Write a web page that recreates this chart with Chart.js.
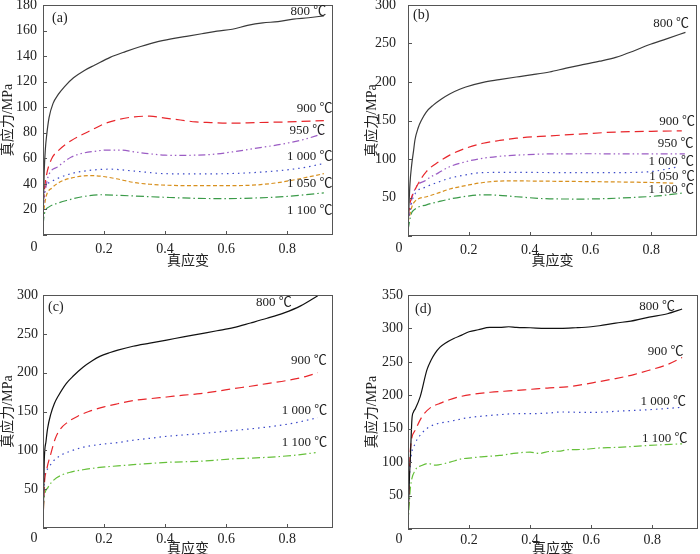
<!DOCTYPE html>
<html>
<head>
<meta charset="utf-8">
<script src="https://cdn.jsdelivr.net/npm/chart.js@4.4.0/dist/chart.umd.min.js"></script>
<style>
  html, body { margin: 0; padding: 0; background: #fff; }
  #wrap { position: relative; width: 700px; height: 554px; overflow: hidden; }
  .panel { position: absolute; width: 350px; height: 277px; }
</style>
</head>
<body>
<div id="wrap">
  <div class="panel" style="left:0;top:0"><canvas id="ca" width="350" height="277"></canvas></div>
  <div class="panel" style="left:350px;top:0"><canvas id="cb" width="350" height="277"></canvas></div>
  <div class="panel" style="left:0;top:277px"><canvas id="cc" width="350" height="277"></canvas></div>
  <div class="panel" style="left:350px;top:277px"><canvas id="cd" width="350" height="277"></canvas></div>
</div>
<script>
// ---------- 数据 ----------
const tempLabels = ["800 ℃", "900 ℃", "950 ℃", "1 000 ℃", "1 050 ℃", "1 100 ℃"];
const xTitle = "真应变";
const yTitle = "真应力/MPa";

// (a)
const strainA800 = [0, 0.002, 0.004, 0.008, 0.012, 0.02, 0.033, 0.05, 0.07, 0.1, 0.137, 0.17, 0.22, 0.27, 0.32, 0.37, 0.42, 0.47, 0.52, 0.57, 0.62, 0.67, 0.72, 0.77, 0.82, 0.87, 0.92];
const stressA800 = [10, 30, 50, 68, 78, 92, 103, 110, 116, 123, 129, 133, 139, 143.5, 147.5, 151, 153.5, 155.5, 157.5, 159.5, 161, 164, 166, 167, 169, 170, 171.5];
const strainA900 = [0, 0.01, 0.027, 0.05, 0.093, 0.158, 0.2, 0.25, 0.3, 0.35, 0.4, 0.45, 0.5, 0.55, 0.62, 0.7, 0.8, 0.92];
const stressA900 = [25, 45, 59, 66, 74, 82, 87, 90.5, 92.5, 93, 91.5, 90, 88.5, 88, 87.5, 88, 88.5, 89.5];
const strainA950 = [0, 0.016, 0.049, 0.093, 0.13, 0.17, 0.21, 0.25, 0.3, 0.35, 0.4, 0.45, 0.5, 0.55, 0.62, 0.7, 0.78, 0.85, 0.92];
const stressA950 = [22, 45, 53.5, 61, 64, 65.5, 66.5, 66.5, 65, 63.5, 62.5, 62.3, 62.5, 63, 65, 68, 71, 74.5, 79.5];
const strainA1000 = [0, 0.005, 0.02, 0.05, 0.1, 0.15, 0.22, 0.3, 0.4, 0.5, 0.6, 0.7, 0.8, 0.86, 0.92];
const stressA1000 = [20, 36, 41, 44.5, 48.5, 50.5, 51.5, 50, 48, 47.8, 48, 49, 51, 53, 56];
const strainA1050 = [0, 0.01, 0.03, 0.06, 0.1, 0.15, 0.19, 0.24, 0.3, 0.35, 0.4, 0.5, 0.6, 0.7, 0.77, 0.84, 0.92];
const stressA1050 = [15, 30, 37, 42, 45, 46.5, 46, 44, 41, 39.7, 39, 38.6, 38.6, 39.2, 41, 44, 48];
const strainA1100 = [0, 0.005, 0.02, 0.05, 0.077, 0.13, 0.19, 0.25, 0.3, 0.4, 0.5, 0.6, 0.7, 0.8, 0.92];
const stressA1100 = [8, 17, 22, 25, 27, 30, 31.5, 31, 30.5, 29.5, 28.7, 28.5, 29, 30.2, 33];

// (b)
const strainB800 = [0, 0.002, 0.0065, 0.012, 0.018, 0.023, 0.033, 0.045, 0.06, 0.083, 0.11, 0.137, 0.17, 0.19, 0.247, 0.3, 0.356, 0.41, 0.465, 0.52, 0.574, 0.63, 0.683, 0.74, 0.79, 0.85, 0.912];
const stressB800 = [10, 28, 68, 92, 110, 125, 140, 151, 161, 170, 178, 184.5, 190.5, 193.5, 199.5, 203, 206.5, 209.5, 213, 218, 222.5, 227, 232, 240, 248, 256, 264.5];
const strainB900 = [0, 0.008, 0.028, 0.061, 0.1, 0.137, 0.19, 0.247, 0.3, 0.356, 0.465, 0.574, 0.683, 0.8, 0.9];
const stressB900 = [25, 45, 64, 84, 96, 105, 114, 120.5, 124, 127, 130, 132.6, 135, 136, 136.5];
const strainB950 = [0, 0.017, 0.061, 0.1, 0.137, 0.19, 0.247, 0.3, 0.356, 0.465, 0.6, 0.8, 0.91];
const stressB950 = [22, 55, 73, 82, 90, 96.5, 101, 103.5, 105, 106.6, 106.8, 106.6, 106.6];
const strainB1000 = [0, 0.017, 0.061, 0.1, 0.137, 0.19, 0.247, 0.35, 0.5, 0.7, 0.8, 0.89];
const stressB1000 = [20, 50, 64, 70, 75, 79.5, 82.4, 82.6, 82.4, 82.4, 83.7, 90];
const strainB1050 = [0, 0.017, 0.061, 0.1, 0.137, 0.19, 0.247, 0.334, 0.45, 0.6, 0.8, 0.88];
const stressB1050 = [18, 42, 51, 56, 61, 65.5, 69.5, 71.6, 71.2, 70.6, 69.5, 68.6];
const strainB1100 = [0, 0.01, 0.02, 0.061, 0.1, 0.137, 0.19, 0.247, 0.3, 0.356, 0.465, 0.574, 0.737, 0.82, 0.9];
const stressB1100 = [8, 28, 34, 40.5, 44.5, 48, 51.5, 53.5, 52.8, 51, 48.3, 48, 50, 52, 55.6];

// (c)
const strainC800 = [0, 0.002, 0.004, 0.01, 0.015, 0.025, 0.037, 0.05, 0.076, 0.1, 0.131, 0.16, 0.186, 0.22, 0.245, 0.295, 0.35, 0.405, 0.46, 0.515, 0.57, 0.624, 0.68, 0.734, 0.79, 0.844, 0.9];
const stressC800 = [5, 40, 85, 112, 128, 146, 160, 170, 186, 196, 207, 215, 221, 226, 229, 234, 238, 242, 246, 250, 254, 258, 264, 270, 277, 286, 299];
const strainC900 = [0, 0.002, 0.004, 0.012, 0.026, 0.04, 0.058, 0.08, 0.114, 0.15, 0.2, 0.245, 0.295, 0.35, 0.405, 0.46, 0.515, 0.57, 0.624, 0.68, 0.734, 0.8, 0.86, 0.9];
const stressC900 = [5, 30, 53, 75, 96, 115, 128, 136, 144, 150, 156, 160, 164, 166.5, 168.7, 171, 173, 176, 179.4, 182.5, 186, 190, 195, 200];
const strainC1000 = [0, 0.002, 0.004, 0.015, 0.036, 0.06, 0.091, 0.131, 0.186, 0.245, 0.295, 0.35, 0.405, 0.515, 0.624, 0.734, 0.82, 0.9];
const stressC1000 = [5, 40, 62, 76, 87, 94, 99, 104, 107.5, 110, 113, 115.5, 118, 121.5, 125.5, 130, 135, 142];
const strainC1100 = [0, 0.002, 0.005, 0.016, 0.036, 0.06, 0.091, 0.131, 0.186, 0.245, 0.295, 0.405, 0.515, 0.624, 0.734, 0.82, 0.893];
const stressC1100 = [5, 30, 42, 52, 62, 68, 72, 75, 78, 80, 81.5, 84.5, 86, 89, 91, 93.5, 97];

// (d)
const strainD800 = [0, 0.002, 0.005, 0.008, 0.013, 0.018, 0.024, 0.04, 0.062, 0.075, 0.089, 0.105, 0.122, 0.15, 0.176, 0.2, 0.23, 0.268, 0.3, 0.33, 0.355, 0.4, 0.45, 0.5, 0.55, 0.6, 0.627, 0.68, 0.73, 0.79, 0.85, 0.898];
const stressD800 = [10, 40, 80, 110, 165, 175, 180, 198, 238, 252, 263, 272, 278, 285, 290, 295, 298, 301.5, 301.5, 302.5, 301.5, 301, 300, 300, 301, 302.5, 304, 308, 311, 317, 322, 329];
const strainD900 = [0, 0.003, 0.008, 0.024, 0.046, 0.078, 0.1, 0.133, 0.17, 0.22, 0.27, 0.33, 0.38, 0.43, 0.464, 0.52, 0.572, 0.62, 0.68, 0.74, 0.79, 0.85, 0.898];
const stressD900 = [10, 60, 120, 148, 168, 183, 187, 193, 198, 202, 204.5, 206.5, 208, 210, 211, 212.5, 216, 220, 225, 231, 237.5, 246, 256.5];
const strainD1000 = [0, 0.003, 0.008, 0.024, 0.045, 0.067, 0.1, 0.138, 0.19, 0.247, 0.3, 0.355, 0.4, 0.464, 0.5, 0.572, 0.62, 0.68, 0.79, 0.898];
const stressD1000 = [10, 60, 100, 128, 143, 152, 158, 161, 166, 169, 171, 172.5, 172.5, 173.5, 175, 174.5, 174.5, 176, 178.5, 182];
const strainD1100 = [0, 0.003, 0.008, 0.024, 0.045, 0.067, 0.085, 0.1, 0.138, 0.176, 0.2, 0.24, 0.3, 0.355, 0.4, 0.43, 0.464, 0.5, 0.52, 0.572, 0.62, 0.68, 0.79, 0.898];
const stressD1100 = [5, 30, 62, 88, 95, 98, 95.5, 96, 100, 105, 106, 108, 110, 113.5, 115, 113, 116, 116.5, 118.5, 119, 121, 122, 125, 127.5];

// 纵轴刻度
const yTicksA = { max: 180, step: 20 };
const yTicksB = { max: 300, step: 50 };
const yTicksC = { max: 300, step: 50 };
const yTicksD = { max: 350, step: 50 };
const xMax = 0.95, xStep = 0.2;

// ---------- 样式 ----------
const FONT = '"Liberation Serif", "Times New Roman", "Noto Sans CJK SC", serif';
const styles = {
  800:  { color: "#3a3a3a", dash: [] },
  900:  { color: "#e8262b", dash: [9, 5] },
  950:  { color: "#9b5cc4", dash: [7, 3, 1.5, 3, 1.5, 3] },
  1000: { color: "#3a48c8", dash: [1.5, 4] },
  1050: { color: "#d8901e", dash: [4, 2.5] },
  1100: { color: "#3a9a48", dash: [8, 3, 1.5, 3] }
};

function series(temp, xs, ys, color) {
  const st = styles[temp];
  return {
    data: xs.map((x, i) => ({ x: x, y: ys[i] })),
    borderColor: color || st.color,
    borderDash: st.dash,
    borderWidth: 1.2,
    showLine: true,
    pointRadius: 0,
    cubicInterpolationMode: "monotone",
    fill: false
  };
}

// 面板内文字、边框、向内刻度
const panelDecor = {
  id: "panelDecor",
  afterDraw(chart) {
    const o = chart.options.plugins.panelDecor;
    const { ctx, chartArea: a, scales: { x, y } } = chart;
    ctx.save();
    ctx.strokeStyle = "#555";
    ctx.lineWidth = 1;
    ctx.strokeRect(a.left + 0.5, a.top + 0.5, a.right - a.left - 1, a.bottom - a.top - 1);
    ctx.beginPath();
    x.ticks.forEach(t => {
      const px = Math.round(x.getPixelForValue(t.value)) + 0.5;
      ctx.moveTo(px, a.bottom); ctx.lineTo(px, a.bottom - 4);
    });
    y.ticks.forEach(t => {
      const py = Math.round(y.getPixelForValue(t.value)) + 0.5;
      ctx.moveTo(a.left, py); ctx.lineTo(a.left + 4, py);
    });
    ctx.stroke();

    ctx.fillStyle = "#222";
    ctx.font = "14px " + FONT;
    ctx.textAlign = "left";
    ctx.textBaseline = "middle";
    ctx.fillText(o.letter, a.left + o.letterAt[0], a.top + o.letterAt[1]);
    ctx.textAlign = "center";
    ctx.fillText("0", a.left - 9, a.bottom + o.zeroDy);

    ctx.font = "13px " + FONT;
    o.labels.forEach((p, i) => {
      ctx.fillText(o.texts[i], x.getPixelForValue(p[0]), y.getPixelForValue(p[1]));
    });
    ctx.restore();
  }
};

function makePanel(id, datasets, yt, g) {
  new Chart(document.getElementById(id), {
    type: "scatter",
    data: { datasets: datasets },
    plugins: [panelDecor],
    options: {
      responsive: false,
      animation: false,
      layout: { padding: { top: g.top, right: g.right, left: 0, bottom: 0 } },
      plugins: {
        legend: { display: false },
        tooltip: { enabled: false },
        panelDecor: { letter: g.letter, letterAt: g.letterAt, labels: g.labels, texts: g.texts, zeroDy: g.zeroDy }
      },
      scales: {
        x: {
          type: "linear", min: 0, max: xMax,
          afterFit: s => { s.height = g.xh; s.paddingLeft = 0; s.paddingRight = 0; },
          grid: { display: false, drawTicks: false },
          border: { display: false },
          ticks: {
            stepSize: xStep, includeBounds: false, padding: g.xPad, maxRotation: 0,
            color: "#222", font: { family: FONT, size: 14 },
            callback: v => Math.abs(v) < 1e-9 ? "" : v.toFixed(1)
          },
          title: { display: true, text: xTitle, color: "#222", padding: { top: 0, bottom: g.xtPad }, font: { family: FONT, size: 14 } }
        },
        y: {
          type: "linear", min: 0, max: yt.max,
          afterFit: s => { s.width = g.yw; s.paddingTop = 0; s.paddingBottom = 0; },
          grid: { display: false, drawTicks: false },
          border: { display: false },
          ticks: {
            stepSize: yt.step, padding: g.yPad,
            color: "#222", font: { family: FONT, size: 14 },
            callback: v => v === 0 ? "" : v
          },
          title: { display: true, text: yTitle, color: "#222", padding: { top: g.ytPad, bottom: 0 }, font: { family: FONT, size: 14 } }
        }
      }
    }
  });
}

makePanel("ca", [
  series(800, strainA800, stressA800),
  series(900, strainA900, stressA900),
  series(950, strainA950, stressA950),
  series(1000, strainA1000, stressA1000),
  series(1050, strainA1050, stressA1050),
  series(1100, strainA1100, stressA1100)
], yTicksA, {
  top: 5, right: 17, yw: 43, xh: 42, xPad: 6, yPad: 6, xtPad: 7, ytPad: 0, zeroDy: 12,
  letter: "(a)", letterAt: [9, 13],
  texts: tempLabels,
  labels: [[0.869, 175], [0.89, 99], [0.866, 82], [0.874, 61], [0.874, 40.4], [0.874, 19]]
});

makePanel("cb", [
  series(800, strainB800, stressB800),
  series(900, strainB900, stressB900),
  series(950, strainB950, stressB950),
  series(1000, strainB1000, stressB1000),
  series(1050, strainB1050, stressB1050),
  series(1100, strainB1100, stressB1100)
], yTicksB, {
  top: 5, right: 3, yw: 58, xh: 41, xPad: 6, yPad: 12, xtPad: 7, ytPad: 14, zeroDy: 12,
  letter: "(b)", letterAt: [5, 10],
  texts: tempLabels,
  labels: [[0.865, 276], [0.885, 148.6], [0.88, 120.5], [0.865, 96.7], [0.868, 77], [0.865, 60]]
});

const tempLabels4 = [tempLabels[0], tempLabels[1], tempLabels[3], tempLabels[5]];

makePanel("cc", [
  series(800, strainC800, stressC800, "#111"),
  series(900, strainC900, stressC900),
  series(1000, strainC1000, stressC1000),
  series(1100, strainC1100, stressC1100, "#66c03a")
], yTicksC, {
  top: 18, right: 17, yw: 43, xh: 26, xPad: 3, yPad: 5, xtPad: -4, ytPad: 0, zeroDy: 10,
  letter: "(c)", letterAt: [5, 12],
  texts: tempLabels4,
  labels: [[0.756, 290], [0.871, 216], [0.857, 151.5], [0.857, 110.6]]
});

makePanel("cd", [
  series(800, strainD800, stressD800, "#111"),
  series(900, strainD900, stressD900),
  series(1000, strainD1000, stressD1000),
  series(1100, strainD1100, stressD1100, "#66c03a")
], yTicksD, {
  top: 18, right: 2, yw: 58, xh: 25, xPad: 3, yPad: 5, xtPad: -4, ytPad: 14, zeroDy: 10,
  letter: "(d)", letterAt: [7, 14],
  texts: tempLabels4,
  labels: [[0.816, 332.5], [0.844, 265], [0.836, 190], [0.841, 135]]
});
</script>
</body>
</html>
